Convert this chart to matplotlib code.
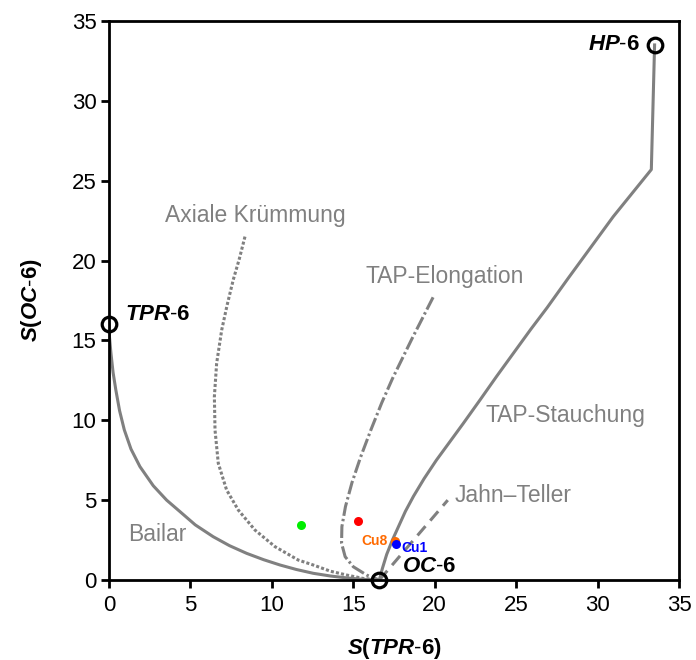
import matplotlib
matplotlib.use("Agg")
import matplotlib.pyplot as plt

# reference structures
ref_x = [0.0, 16.6, 33.5]
ref_y = [16.0, 0.0, 33.5]

# Bailar pathway (TPR-6 -> OC-6)
bailar_x = [0.0, 0.03, 0.12, 0.25, 0.42, 0.65, 0.94, 1.35, 1.9, 2.72, 3.54, 4.36, 5.3, 6.4,
            7.4, 8.45, 9.5, 10.5, 11.5, 12.54, 13.6, 14.6, 15.6, 16.6]
bailar_y = [16.0, 15.2, 14.2, 13.0, 11.9, 10.6, 9.4, 8.2, 7.1, 5.9, 5.0, 4.28, 3.45, 2.71,
            2.15, 1.67, 1.27, 0.94, 0.66, 0.42, 0.25, 0.13, 0.04, 0.0]

# axial bending pathway
axial_x = [8.35, 8.0, 7.63, 7.25, 6.92, 6.61, 6.47, 6.51, 6.71, 7.22, 7.94, 8.96, 10.19,
           11.62, 12.54, 13.6, 14.6, 15.6, 16.6]
axial_y = [21.5, 20.1, 18.8, 17.2, 15.65, 13.57, 11.48, 9.39, 7.31, 5.64, 4.38, 3.13, 2.09,
           1.25, 0.94, 0.55, 0.31, 0.1, 0.0]

# TAP elongation
elong_x = [19.9, 18.6, 17.4, 16.75, 16.1, 15.45, 14.92, 14.52, 14.3, 14.28, 14.5, 15.0, 15.82, 16.6]
elong_y = [17.7, 15.1, 12.6, 11.1, 9.45, 7.7, 6.1, 4.6, 3.34, 2.3, 1.46, 0.83, 0.31, 0.0]

# TAP compression (OC-6 -> HP-6)
stauch_x = [16.6, 16.78, 17.05, 17.4, 17.8, 18.2, 18.7, 19.35, 20.1, 21.75, 22.8, 23.8, 25.9,
            26.9, 28.2, 30.96, 33.3, 33.5]
stauch_y = [0.0, 0.7, 1.6, 2.5, 3.4, 4.3, 5.25, 6.35, 7.5, 9.8, 11.3, 12.75, 15.7,
            17.05, 18.9, 22.75, 25.7, 33.5]

# Jahn-Teller
jt_x = [16.6, 20.8]
jt_y = [0.0, 5.0]

# complexes
cpx_names = ["", "", "Cu8", "Cu1"]
cpx_x = [11.8, 15.27, 17.56, 17.62]
cpx_y = [3.45, 3.71, 2.46, 2.25]
cpx_colors = ["#00ee00", "#ff0000", "#ff6a00", "#0000ff"]

ticks = [0, 5, 10, 15, 20, 25, 30, 35]

plt.rcParams.update({
    "font.family": "Liberation Sans",
    "font.size": 16,
    "mathtext.fontset": "custom",
    "mathtext.rm": "Liberation Sans",
    "mathtext.bf": "Liberation Sans:bold",
    "mathtext.bfit": "Liberation Sans:bold:italic",
    "mathtext.it": "Liberation Sans:italic",
})


def shape_label(sym, wrap=None):
    # italic symbol, upright "-6"
    core = r"\mathbfit{%s}" % sym + "\u2010" + r"\mathbf{6}"
    if wrap:
        return r"$\mathbfit{%s}\mathbf{(}%s\mathbf{)}$" % (wrap, core)
    return "$" + core + "$"


fig = plt.figure(figsize=(6.96, 6.6), dpi=100)
ax = fig.add_axes([0.1566, 0.1212, 0.819, 0.847])

gray = "#808080"
lw = 2.2
ax.plot(bailar_x, bailar_y, color=gray, lw=lw)
ax.plot(axial_x, axial_y, color=gray, lw=lw, linestyle=(0, (1.0, 0.7)))
ax.plot(elong_x, elong_y, color=gray, lw=lw, linestyle=(0, (4.5, 1.0, 0.8, 1.0)))
ax.plot(stauch_x, stauch_y, color=gray, lw=lw)
ax.plot(jt_x, jt_y, color=gray, lw=lw, linestyle=(0, (4.0, 2.4)))

ax.plot(ref_x, ref_y, "o", ms=10.5, mfc="none", mec="black", mew=2.3, clip_on=False, zorder=5)

for x, y, c in zip(cpx_x, cpx_y, cpx_colors):
    ax.plot(x, y, "o", ms=6.5, color=c, mec="none", zorder=4)

ax.text(17.13, 2.47, cpx_names[2], color=cpx_colors[2], fontsize=10,
        fontweight="bold", ha="right", va="center")
ax.text(17.97, 2.0, cpx_names[3], color=cpx_colors[3], fontsize=10,
        fontweight="bold", ha="left", va="center")

# structure labels
ax.text(0.98, 16.65, shape_label("TPR"), fontsize=16, ha="left", va="center")
ax.text(18.0, 0.85, shape_label("OC"), fontsize=16, ha="left", va="center")
ax.text(32.6, 33.55, shape_label("HP"), fontsize=16, ha="right", va="center")

# pathway labels
ax.text(9.0, 22.8, "Axiale Krümmung", color=gray, fontsize=16.5, ha="center", va="center")
ax.text(20.6, 19.0, "TAP-Elongation", color=gray, fontsize=16.5, ha="center", va="center")
ax.text(23.1, 10.3, "TAP-Stauchung", color=gray, fontsize=16.5, ha="left", va="center")
ax.text(21.2, 5.3, "Jahn\u2013Teller", color=gray, fontsize=16.5, ha="left", va="center")
ax.text(2.98, 2.88, "Bailar", color=gray, fontsize=16.5, ha="center", va="center")

ax.set_xlim(0, 35)
ax.set_ylim(0, 35)
ax.set_xticks(ticks)
ax.set_yticks(ticks)
ax.tick_params(direction="out", length=6, width=2, labelsize=16)
ax.tick_params(axis="x", pad=5)
ax.tick_params(axis="y", pad=3)
for s in ax.spines.values():
    s.set_linewidth(2)

ax.set_xlabel(shape_label("TPR", wrap="S"), fontsize=16, labelpad=14)
ax.set_ylabel(shape_label("OC", wrap="S"), fontsize=16, labelpad=20)

fig.savefig("out.png", dpi=100)
